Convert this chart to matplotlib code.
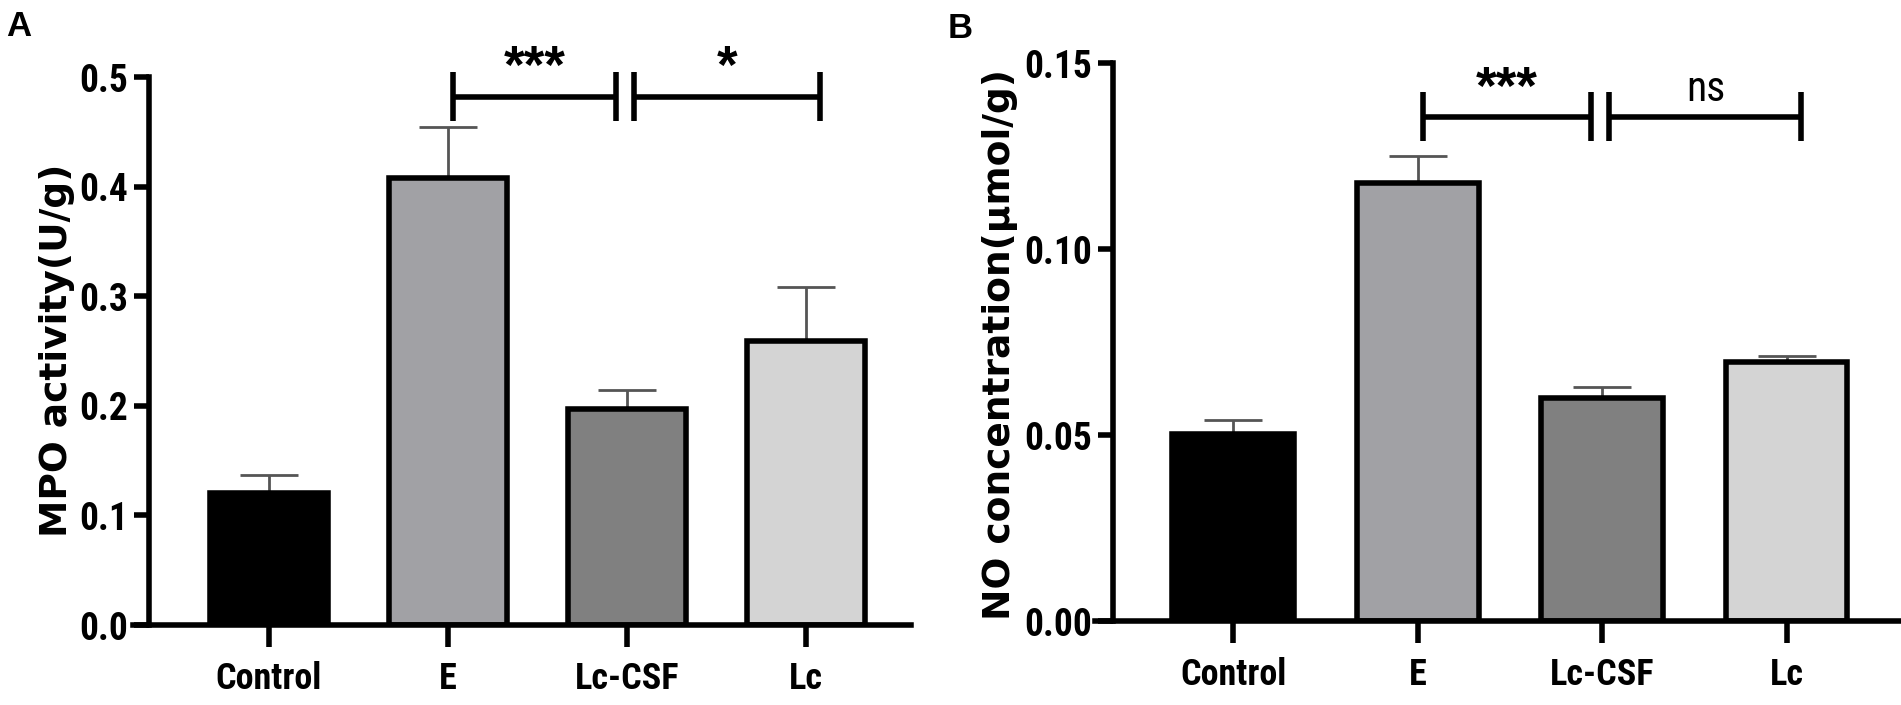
import matplotlib
matplotlib.use('Agg')
import matplotlib.pyplot as plt
import numpy as np

groups = ['Control', 'E', 'Lc-CSF', 'Lc']
colors = ['#000000', '#a1a1a5', '#808080', '#d4d4d4']

# panel A - MPO activity
mpo_mean = [0.12, 0.408, 0.197, 0.259]
mpo_err = [0.017, 0.046, 0.017, 0.049]
mpo_ticks = [0.0, 0.1, 0.2, 0.3, 0.4, 0.5]
mpo_tick_labels = ['0.0', '0.1', '0.2', '0.3', '0.4', '0.5']
mpo_marks = ['***', '*']

# panel B - NO concentration
no_mean = [0.0502, 0.1178, 0.0600, 0.0697]
no_err = [0.0038, 0.0072, 0.0028, 0.0015]
no_ticks = [0.0, 0.05, 0.10, 0.15]
no_tick_labels = ['0.00', '0.05', '0.10', '0.15']
no_marks = ['***', 'ns']

NARROW = ['Roboto Condensed', 'DejaVu Sans']
W, H = 1901, 705

fig = plt.figure(figsize=(W / 100, H / 100), dpi=100)


def px_axes(left, right, top, bottom):
    return fig.add_axes([left / W, (H - bottom) / H, (right - left) / W, (bottom - top) / H])


def panel(ax, means, errs, ylim, ticks, tick_labels, xlim, spine_x, marks,
          bar_y, bar_h, mark_y):
    x = np.arange(len(groups))
    ax.errorbar(x, means, yerr=[np.zeros(len(errs)), errs], fmt='none',
                ecolor='#555555', elinewidth=2, capsize=21, capthick=2, zorder=1)
    ax.bar(x, means, width=0.66, color=colors, edgecolor='black', linewidth=4, zorder=2)
    ax.set_xlim(*xlim)
    ax.set_ylim(*ylim)
    for s in ['top', 'right']:
        ax.spines[s].set_visible(False)
    ax.spines['left'].set_position(('data', spine_x))
    ax.spines['left'].set_linewidth(4)
    ax.spines['bottom'].set_linewidth(4)
    ax.set_yticks(ticks)
    ax.set_yticklabels(tick_labels, family=NARROW, fontweight='bold', fontsize=27)
    ax.set_xticks(x)
    ax.set_xticklabels(groups, family=NARROW, fontweight='bold', fontsize=26)
    ax.tick_params(axis='y', length=11, width=4, pad=4)
    ax.tick_params(axis='x', length=16, width=4, pad=10)

    # significance brackets
    spans = [(1.03, 1.94), (2.04, 3.08)]
    for (x0, x1), m in zip(spans, marks):
        ax.plot([x0, x1], [bar_y, bar_y], color='black', lw=4, clip_on=False,
                solid_capstyle='butt')
        for xx in (x0, x1):
            ax.plot([xx, xx], [bar_y - bar_h, bar_y + bar_h], color='black', lw=4,
                    clip_on=False, solid_capstyle='butt')
        if m == 'ns':
            ax.text((x0 + x1) / 2, mark_y, m, ha='center', va='center',
                    family=NARROW, fontsize=30, clip_on=False)
        else:
            ax.text((x0 + x1) / 2, mark_y, m, ha='center', va='center',
                    family='Liberation Sans', fontweight='bold', fontsize=38,
                    clip_on=False)


axA = px_axes(133, 911, 77, 625)
panel(axA, mpo_mean, mpo_err, (0, 0.5), mpo_ticks, mpo_tick_labels,
      (-0.76, 3.587), -0.67, mpo_marks, 0.482, 0.0223, 0.507)

axB = px_axes(1095, 1899, 63, 621)
panel(axB, no_mean, no_err, (0, 0.15), no_ticks, no_tick_labels,
      (-0.75, 3.61), -0.652, no_marks, 0.1355, 0.0066, 0.1428)

fig.text(57 / W, (H - 350) / H, 'MPO activity(U/g)', rotation=90, ha='center',
         va='center', fontsize=27, fontweight='bold', family='DejaVu Sans')
fig.text(1000 / W, (H - 344) / H, 'NO concentration(\u03bcmol/g)', rotation=90,
         ha='center', va='center', fontsize=27, fontweight='bold', family='DejaVu Sans')

fig.text(6 / W, (H - 10) / H, 'A', ha='left', va='top', fontsize=25,
         fontweight='bold', family='Liberation Sans')
fig.text(948 / W, (H - 12) / H, 'B', ha='left', va='top', fontsize=25,
         fontweight='bold', family='Liberation Sans')

fig.savefig('out.png', dpi=100)
